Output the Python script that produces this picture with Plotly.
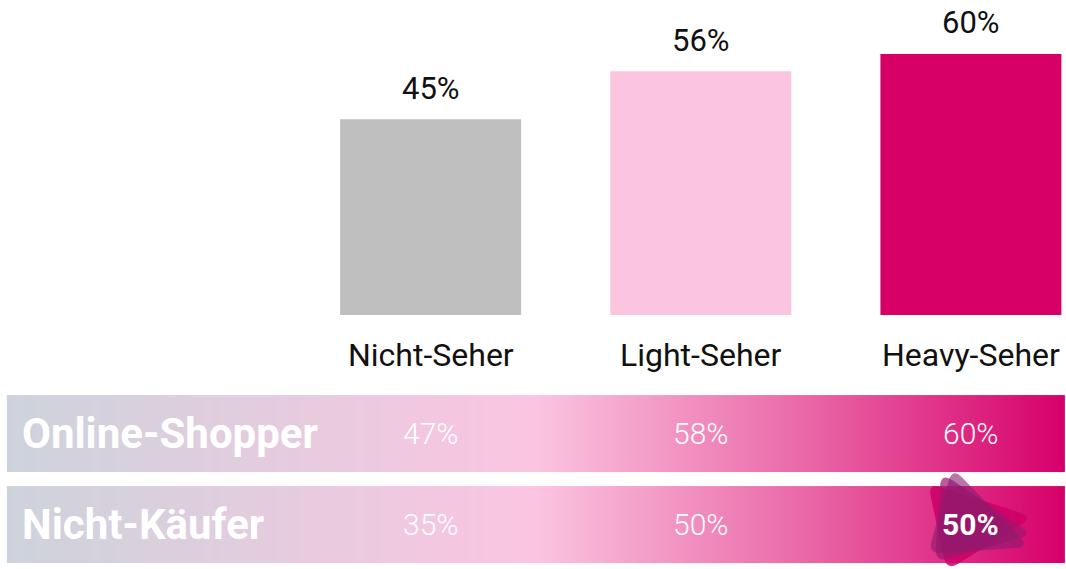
import numpy as np
import plotly.graph_objects as go

# bar chart data
seher = ["Nicht-Seher", "Light-Seher", "Heavy-Seher"]
seher_pct = [45, 56, 60]
bar_colors = ["#bfbfbf", "#fbc5e0", "#d70066"]

# band data
gruppen = ["Online-Shopper", "Nicht-Käufer"]
gruppen_pct = [[47, 58, 60], [35, 50, 50]]
highlight = (1, 2)  # Nicht-Käufer / Heavy-Seher

FONT = "Roboto"


def rounded_triangle(pts, r):
    """SVG path of a triangle with rounded corners (pixel offsets, y up)."""
    pts = [np.array(p, dtype=float) for p in pts]
    n = len(pts)
    segs = []
    for i in range(n):
        v = pts[i]
        p = pts[i - 1]
        q = pts[(i + 1) % n]
        a = v + r * (p - v) / np.linalg.norm(p - v)
        b = v + r * (q - v) / np.linalg.norm(q - v)
        segs.append((a, v, b))
    f = lambda pt: f"{pt[0]:.1f},{-pt[1]:.1f}"
    d = f"M{f(segs[0][0])} Q{f(segs[0][1])} {f(segs[0][2])}"
    for a, v, b in segs[1:]:
        d += f" L{f(a)} Q{f(v)} {f(b)}"
    d += f" L{f(segs[0][0])} Z"
    return d


def rotate(pts, deg):
    t = np.radians(deg)
    c, s = np.cos(t), np.sin(t)
    return [(x * c - y * s, x * s + y * c) for x, y in pts]


def main():
    xs = list(range(len(seher)))
    fig = go.Figure()

    fig.add_trace(go.Bar(
        x=xs, y=seher_pct, marker_color=bar_colors, marker_line_width=0,
        hoverinfo="skip", xaxis="x", yaxis="y",
    ))

    # gradient bands
    left, right = -1.5685, 2.3463
    edges = np.linspace(left, right, 301)
    t = (edges[:-1] + edges[1:]) / 2
    t = (t - left) / (right - left)
    z = [t, t]
    fig.add_trace(go.Heatmap(
        x=edges, y=list(range(len(gruppen))), z=z,
        colorscale=[[0, "#cdd3dc"], [0.5, "#fbc5e0"], [0.75, "#ea6aa9"], [1, "#d6006a"]],
        zmin=0, zmax=1, showscale=False, ygap=14, hoverinfo="skip",
        xaxis="x", yaxis="y2",
    ))

    annotations = []
    for i, (name, v) in enumerate(zip(seher, seher_pct)):
        annotations.append(dict(
            x=i, y=v, xref="x", yref="y", text=f"{v}%", showarrow=False,
            yanchor="middle", yshift=31, font=dict(family=FONT, size=31, color="#111111"),
        ))
        annotations.append(dict(
            x=i, y=0, xref="x", yref="y", text=name, showarrow=False,
            yanchor="middle", yshift=-40, font=dict(family=FONT, size=32, color="#111111"),
        ))

    for r, g in enumerate(gruppen):
        annotations.append(dict(
            x=left, y=r, xref="x", yref="y2", text=f"<b>{g}</b>", showarrow=False,
            xanchor="left", xshift=13, yanchor="middle",
            font=dict(family=FONT, size=42, color="white"),
        ))
        for c, v in enumerate(gruppen_pct[r]):
            bold = (r, c) == highlight
            annotations.append(dict(
                x=c, y=r, xref="x", yref="y2",
                text=f"<b>{v}%</b>" if bold else f"{v}%", showarrow=False,
                yanchor="middle",
                font=dict(family=FONT, size=30, color="white", weight=400 if bold else 300),
            ))

    # decorative blob behind the highlighted value
    base = [(-36, 38), (-30, -52), (62, 10)]
    blobs = [(-16, "#cc0066", 0.85), (0, "#a0156e", 0.7), (12, "#8a1a6e", 0.6)]
    shapes = []
    for deg, col, op in blobs:
        shapes.append(dict(
            type="path", path=rounded_triangle(rotate(base, deg), 14),
            xref="x", yref="y2", xsizemode="pixel", ysizemode="pixel",
            xanchor=highlight[1], yanchor=highlight[0],
            fillcolor=col, opacity=op, line_width=0, layer="above",
        ))

    fig.update_layout(
        width=1066, height=569, margin=dict(l=0, r=0, t=0, b=0),
        paper_bgcolor="white", plot_bgcolor="rgba(0,0,0,0)",
        showlegend=False, bargap=0.33,
        xaxis=dict(range=[-1.594, 2.352], visible=False, fixedrange=True),
        yaxis=dict(range=[0, 72.4], domain=[1 - 315 / 569, 1], visible=False, fixedrange=True),
        yaxis2=dict(range=[1.489, -4.764], domain=[0, 1], anchor="x", visible=False, fixedrange=True),
        annotations=annotations, shapes=shapes,
    )
    fig.write_html(
        "out.html", config={"displayModeBar": False},
        post_script="document.body.style.margin='0';",
    )


if __name__ == "__main__":
    main()
